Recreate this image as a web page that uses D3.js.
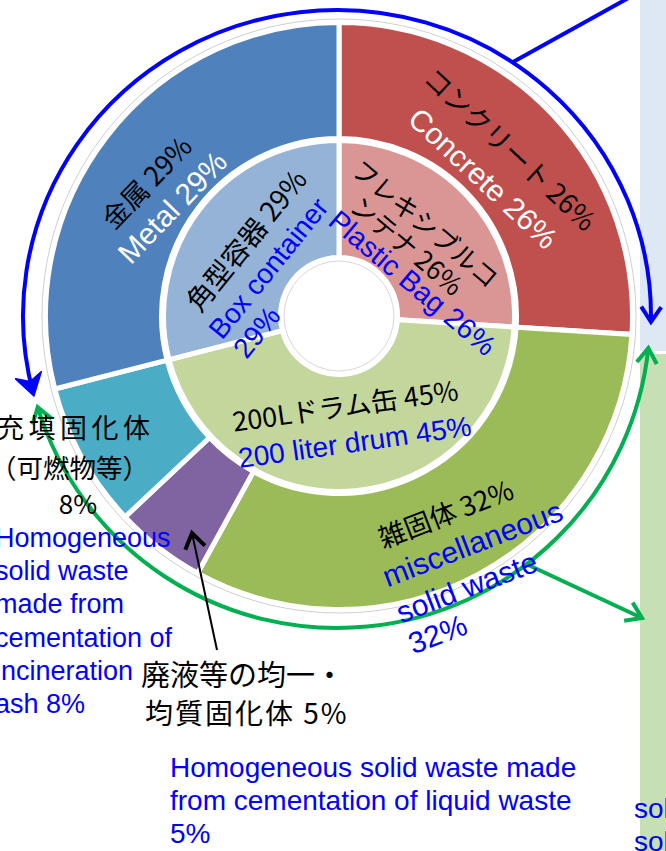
<!DOCTYPE html>
<html>
<head>
<meta charset="utf-8">
<script src="https://cdn.jsdelivr.net/npm/d3@7"></script>
<style>
  html, body { margin: 0; padding: 0; background: #fff; overflow: hidden; }
  svg { display: block; }
  .jp { font-family: "Noto Sans CJK JP", sans-serif; }
  .en { font-family: "Liberation Sans", Arial, sans-serif; }
</style>
</head>
<body>
<svg id="chart" width="666" height="851"></svg>
<script>
// outer ring: kind of waste, clockwise from 12 o'clock
var outerNamesJa = ["コンクリート", "雑固体", "廃液等の均一・均質固化体", "充填固化体（可燃物等）", "金属"];
var outerNamesEn = ["Concrete", "miscellaneous solid waste",
  "Homogeneous solid waste made from cementation of liquid waste",
  "Homogeneous solid waste made from cementation of incineration ash", "Metal"];
var outerValues = [26, 32, 5, 8, 29];
var outerColors = ["#C0504D", "#9BBB59", "#8064A2", "#4BACC6", "#4F81BD"];

// inner ring: kind of container
var innerNamesJa = ["フレキシブルコンテナ", "200Lドラム缶", "角型容器"];
var innerNamesEn = ["Plastic Bag", "200 liter drum", "Box container"];
var innerValues = [26, 45, 29];
var innerColors = ["#D99694", "#C3D69B", "#95B3D7"];

var svg = d3.select("#chart");
var cx = 339, cy = 316;

// side panels of the slide
svg.append("rect").attr("x", 640).attr("y", 0).attr("width", 30).attr("height", 351).attr("fill", "#DDE8F4");
svg.append("rect").attr("x", 640).attr("y", 354).attr("width", 30).attr("height", 500).attr("fill", "#C6DFB5");

var pie = d3.pie().sort(null).value(function(d) { return d; });
var outerArc = d3.arc().innerRadius(177.5).outerRadius(293.5);
var innerArc = d3.arc().innerRadius(58.5).outerRadius(175.5);

var g = svg.append("g").attr("transform", "translate(" + cx + "," + cy + ")");

g.append("circle").attr("r", 297).attr("fill", "none").attr("stroke", "#cfcfcf").attr("stroke-width", 1);

g.selectAll("path.outer")
  .data(pie(outerValues))
  .enter().append("path")
  .attr("class", "outer")
  .attr("d", outerArc)
  .attr("fill", function(d, i) { return outerColors[i]; })
  .attr("stroke", "#fff")
  .attr("stroke-width", 5);

g.selectAll("path.inner")
  .data(pie(innerValues))
  .enter().append("path")
  .attr("class", "inner")
  .attr("d", innerArc)
  .attr("fill", function(d, i) { return innerColors[i]; })
  .attr("stroke", "#fff")
  .attr("stroke-width", 5);

g.append("circle").attr("r", 55).attr("fill", "none").attr("stroke", "#d8d8d8").attr("stroke-width", 1);

// arrow heads
var defs = svg.append("defs");
function marker(id, color, filled) {
  defs.append("marker")
    .attr("id", id)
    .attr("markerUnits", "userSpaceOnUse")
    .attr("viewBox", "-20 -14 24 28")
    .attr("markerWidth", 24).attr("markerHeight", 28)
    .attr("refX", 0).attr("refY", 0)
    .attr("orient", "auto-start-reverse")
    .append("path")
    .attr("d", filled ? "M-16,-10L0,0L-16,10L-11,0Z" : "M-15,-10L0,0L-15,10")
    .attr("fill", filled ? color : "none")
    .attr("stroke", color)
    .attr("stroke-width", 4)
    .attr("stroke-linejoin", "miter");
}
marker("blueHead", "#0000FF", false);
marker("blueHeadFill", "#0000FF", true);
marker("greenHead", "#00B050", false);
marker("blackHead", "#000", false);

function ell(rx, ry, t) {
  var a = t * Math.PI / 180;
  return [337 + rx * Math.cos(a), 316 + ry * Math.sin(a)];
}
function ellArc(rx, ry, t0, t1, large) {
  var p0 = ell(rx, ry, t0), p1 = ell(rx, ry, t1);
  return "M" + p0 + "A" + rx + "," + ry + " 0 " + large + " 1 " + p1;
}

// blue arc over the top
svg.append("path")
  .attr("d", ellArc(314, 306, 165.3, 361.1, 1))
  .attr("fill", "none").attr("stroke", "#0000FF").attr("stroke-width", 4)
  .attr("marker-start", "url(#blueHeadFill)")
  .attr("marker-end", "url(#blueHead)");
var bp = ell(314, 306, 304);
svg.append("line")
  .attr("x1", bp[0]).attr("y1", bp[1]).attr("x2", 632).attr("y2", -4)
  .attr("stroke", "#0000FF").attr("stroke-width", 4);

// green arc underneath
svg.append("path")
  .attr("d", ellArc(313, 312, 5.9, 163, 0))
  .attr("fill", "none").attr("stroke", "#00B050").attr("stroke-width", 4)
  .attr("marker-start", "url(#greenHead)")
  .attr("marker-end", "url(#greenHead)");
var gp = ell(313, 312, 52.7);
svg.append("line")
  .attr("x1", gp[0]).attr("y1", gp[1]).attr("x2", 642).attr("y2", 618)
  .attr("stroke", "#00B050").attr("stroke-width", 4)
  .attr("marker-end", "url(#greenHead)");

// pointer to the small purple slice
svg.append("line")
  .attr("x1", 217).attr("y1", 650).attr("x2", 192).attr("y2", 533)
  .attr("stroke", "#000").attr("stroke-width", 2)
  .attr("marker-end", "url(#blackHead)");

// labels inside the rings
function pct(v) { return v + "%"; }
var blocks = [
  { a: 304, r: 216.5, rot: -46, lines: [
    { t: outerNamesJa[4] + " " + pct(outerValues[4]), c: "jp", f: "#000", s: 27, x: 0, y: -17.5 },
    { t: "Metal " + pct(outerValues[4]), c: "en", f: "#fff", s: 30, x: 0, y: 17.5 }] },
  { a: 46, r: 219, rot: 43, lines: [
    { t: outerNamesJa[0] + " " + pct(outerValues[0]), c: "jp", f: "#000", s: 27, x: 0, y: -19.5 },
    { t: outerNamesEn[0] + " " + pct(outerValues[0]), c: "en", f: "#fff", s: 30, x: 0, y: 19.5 }] },
  { a: 149.4, r: 263.6, rot: -21, lines: [
    { t: outerNamesJa[1] + " " + pct(outerValues[1]), c: "jp", f: "#000", s: 27, x: -86, y: -36.5, anchor: "start" },
    { t: "miscellaneous", c: "en", f: "#0000FF", s: 30, x: -96, y: 0, anchor: "start" },
    { t: "solid waste", c: "en", f: "#0000FF", s: 30, x: -96, y: 38.6, anchor: "start" },
    { t: pct(outerValues[1]), c: "en", f: "#0000FF", s: 30, x: -96, y: 72, anchor: "start" }] },
  { a: 304.1, r: 85.7, rot: -51, lines: [
    { t: innerNamesJa[2] + " " + pct(innerValues[2]), c: "jp", f: "#000", s: 27.5, x: 7.8, y: -34 },
    { t: innerNamesEn[2], c: "en", f: "#0000FF", s: 28, x: -85.6, y: 0, anchor: "start" },
    { t: pct(innerValues[2]), c: "en", f: "#0000FF", s: 28, x: -85, y: 31.2, anchor: "start" }] },
  { a: 65, r: 80.5, rot: 40, lines: [
    { t: innerNamesJa[0].slice(0, 7), c: "jp", f: "#000", s: 26, x: -27.3, y: -52.8 },
    { t: innerNamesJa[0].slice(7) + " " + pct(innerValues[0]), c: "jp", f: "#000", s: 26, x: -27.3, y: -24.1 },
    { t: innerNamesEn[0] + " " + pct(innerValues[0]), c: "en", f: "#0000FF", s: 28.5, x: 1, y: 0 }] },
  { a: 174.2, r: 108.6, rot: -8, lines: [
    { t: innerNamesJa[1] + " " + pct(innerValues[1]), c: "jp", f: "#000", s: 27, x: -2.2, y: -18.2 },
    { t: innerNamesEn[1] + " " + pct(innerValues[1]), c: "en", f: "#0000FF", s: 28, x: 2.2, y: 18.2 }] }
];

blocks.forEach(function(b) {
  var ang = b.a * Math.PI / 180;
  var px = cx + b.r * Math.sin(ang), py = cy - b.r * Math.cos(ang);
  var bg = svg.append("g").attr("transform", "translate(" + px + "," + py + ") rotate(" + b.rot + ")");
  b.lines.forEach(function(l) {
    bg.append("text")
      .attr("class", l.c)
      .attr("x", l.x).attr("y", l.y)
      .attr("dy", "0.36em")
      .attr("text-anchor", l.anchor || "middle")
      .attr("fill", l.f)
      .style("font-size", l.s + "px")
      .text(l.t);
  });
});

// labels outside the ring
var outside = [
  { t: outerNamesJa[3].slice(0, 5), c: "jp", f: "#000", s: 27, x: -3, y: 438, ls: 4.5 },
  { t: outerNamesJa[3].slice(5), c: "jp", f: "#000", s: 26.5, x: -10, y: 478 },
  { t: pct(outerValues[3]), c: "jp", f: "#000", s: 26, x: 78, y: 514, anchor: "middle" },
  { t: "Homogeneous", c: "en", f: "#0000FF", s: 27, x: -5, y: 547 },
  { t: "solid waste", c: "en", f: "#0000FF", s: 27, x: -5, y: 580 },
  { t: "made from", c: "en", f: "#0000FF", s: 27, x: -5, y: 613 },
  { t: "cementation of", c: "en", f: "#0000FF", s: 27, x: -5, y: 647 },
  { t: "incineration", c: "en", f: "#0000FF", s: 27, x: -5, y: 680 },
  { t: "ash " + pct(outerValues[3]), c: "en", f: "#0000FF", s: 27, x: -5, y: 713 },
  { t: outerNamesJa[2].slice(0, 7), c: "jp", f: "#000", s: 29, x: 141, y: 686 },
  { t: outerNamesJa[2].slice(7) + " " + pct(outerValues[2]), c: "jp", f: "#000", s: 28, x: 145, y: 724, ls: 2 },
  { t: "Homogeneous solid waste made", c: "en", f: "#0000FF", s: 28, x: 170, y: 777 },
  { t: "from cementation of liquid waste", c: "en", f: "#0000FF", s: 28, x: 170, y: 810 },
  { t: pct(outerValues[2]), c: "en", f: "#0000FF", s: 28, x: 170, y: 843 },
  { t: "solid", c: "en", f: "#0000FF", s: 28, x: 634, y: 818 },
  { t: "solid", c: "en", f: "#0000FF", s: 28, x: 634, y: 851 }
];
svg.selectAll("text.out")
  .data(outside)
  .enter().append("text")
  .attr("class", function(d) { return "out " + d.c; })
  .attr("x", function(d) { return d.x; })
  .attr("y", function(d) { return d.y; })
  .attr("text-anchor", function(d) { return d.anchor || "start"; })
  .attr("letter-spacing", function(d) { return d.ls || 0; })
  .attr("fill", function(d) { return d.f; })
  .style("font-size", function(d) { return d.s + "px"; })
  .text(function(d) { return d.t; });
</script>
</body>
</html>
